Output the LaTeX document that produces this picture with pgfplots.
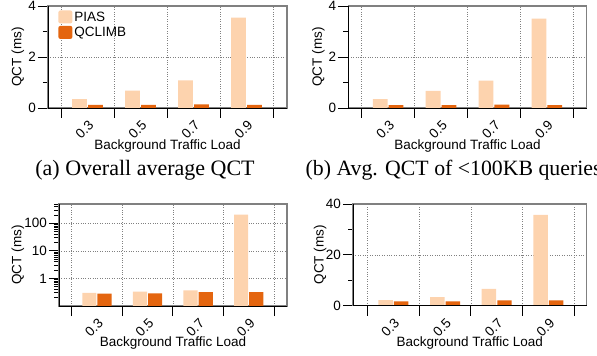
\documentclass[border=0pt]{standalone}
\usepackage{fontspec}
\setmainfont{Liberation Sans}
\newfontfamily\capfont{Liberation Serif}
\usepackage{pgfplots}
\pgfplotsset{compat=1.18}
\definecolor{pias}{HTML}{FDD3AE}
\definecolor{qclimb}{HTML}{E4650F}
\definecolor{framegray}{HTML}{808080}
\pgfplotsset{
  qstyle/.style={
    scale only axis,
    height=102pt,
    ybar,
    bar width=0.28,
    clip=false,
    xtick={-0.5,0.5,1.5,2.5,3.5},
    xticklabels={0.3,0.5,0.7,0.9},
    x tick label as interval,
    xtick pos=bottom,
    ytick pos=left,
    tick align=outside,
    major tick length=10pt,
    minor tick length=5pt,
    tick style={black, line width=0.8pt},
    grid=major,
    major grid style={dotted, gray, line width=0.7pt},
    axis line style={framegray, line width=1.1pt},
    /pgf/number format/assume math mode=true,
    yticklabel style={inner sep=2pt},
    xticklabel style={xshift=-3pt, yshift=-12pt, rotate=45, anchor=center},
    xlabel={Background Traffic Load},
    ylabel={QCT (ms)},
    every axis plot/.append style={draw=none},
  },
  blackframe/.style={
    after end axis/.code={
      \draw[black, line width=0.9pt] (rel axis cs:0,1) -- (rel axis cs:0,0) -- (rel axis cs:1,0);
    }
  },
  legpatch/.style={legend image code/.code={\fill[##1, rounded corners=2pt] (0pt,-6pt) rectangle (14pt,7pt);}},
}
\begin{document}
\fontsize{13.5}{16}\selectfont
\begin{tikzpicture}[font=\fontsize{13.5}{16}\selectfont]
\useasboundingbox (0,0) rectangle (597pt,356pt);
% (a)
\begin{axis}[qstyle, blackframe,
  at={(48pt,248pt)}, anchor=south west, width=239pt,
  xmin=-0.745, xmax=3.764, ymin=0, ymax=4,
  ytick={0,2,4}, minor ytick={1,3},
  xlabel style={at={(axis description cs:0.5,-0.373)}, anchor=center},
  ylabel style={at={(axis description cs:-0.1255,0.5)}, anchor=center},
  legend style={at={(axis description cs:0.03,0.985)}, anchor=north west, draw=none, fill=none, row sep=0pt, font=\fontsize{13.5}{16}\selectfont},
  legend cell align=left]
\addplot[fill=pias, bar shift=-0.15, legpatch] coordinates {(0,0.35) (1,0.68) (2,1.08) (3,3.54)};
\addplot[fill=qclimb, bar shift=0.15, legpatch] coordinates {(0,0.12) (1,0.12) (2,0.14) (3,0.12)};
\legend{PIAS, QCLIMB}
\end{axis}
% (b)
\begin{axis}[qstyle, blackframe,
  at={(348.3pt,248pt)}, anchor=south west, width=238.4pt,
  xmin=-0.753, xmax=3.753, ymin=0, ymax=4,
  ytick={0,2,4}, minor ytick={1,3},
  xlabel style={at={(axis description cs:0.5,-0.37)}, anchor=center},
  ylabel style={at={(axis description cs:-0.126,0.5)}, anchor=center}]
\addplot[fill=pias, bar shift=-0.15] coordinates {(0,0.35) (1,0.67) (2,1.07) (3,3.50)};
\addplot[fill=qclimb, bar shift=0.15] coordinates {(0,0.11) (1,0.11) (2,0.13) (3,0.11)};
\end{axis}
% (c)
\begin{axis}[qstyle, blackframe,
  at={(59pt,50pt)}, anchor=south west, width=228pt,
  xmin=-0.751, xmax=3.757, ymode=log, ymin=0.1, ymax=500, log origin y=infty,
  ytick={1,10,100}, yticklabels={1,10,100},
  minor ytick={0.2,0.3,0.4,0.5,0.6,0.7,0.8,0.9,2,3,4,5,6,7,8,9,20,30,40,50,60,70,80,90,200,300,400,500},
  xlabel style={at={(axis description cs:0.5,-0.363)}, anchor=center},
  ylabel style={at={(axis description cs:-0.18,0.5)}, anchor=center}]
\addplot[fill=pias, bar shift=-0.15] coordinates {(0,0.30) (1,0.33) (2,0.37) (3,205)};
\addplot[fill=qclimb, bar shift=0.15] coordinates {(0,0.28) (1,0.29) (2,0.32) (3,0.32)};
\end{axis}
% (d)
\begin{axis}[qstyle, blackframe,
  at={(353pt,50.3pt)}, anchor=south west, width=233.7pt, height=101.7pt,
  xmin=-0.78, xmax=3.74, ymin=0, ymax=40,
  ytick={0,20,40}, minor ytick={10,30},
  xlabel style={at={(axis description cs:0.5,-0.362)}, anchor=center},
  ylabel style={at={(axis description cs:-0.141,0.5)}, anchor=center}]
\addplot[fill=pias, bar shift=-0.15] coordinates {(0,2.2) (1,3.4) (2,6.6) (3,35.7)};
\addplot[fill=qclimb, bar shift=0.15] coordinates {(0,1.7) (1,1.7) (2,2.1) (3,2.1)};
\end{axis}
\node[anchor=base, font=\capfont\fontsize{22}{26}\selectfont] at (145pt,180pt) {(a) Overall average QCT};
\node[anchor=base west, font=\capfont\fontsize{21.8}{26}\selectfont] at (301pt,180pt) {(b) Avg. QCT of <100KB queries};
\end{tikzpicture}
\end{document}
